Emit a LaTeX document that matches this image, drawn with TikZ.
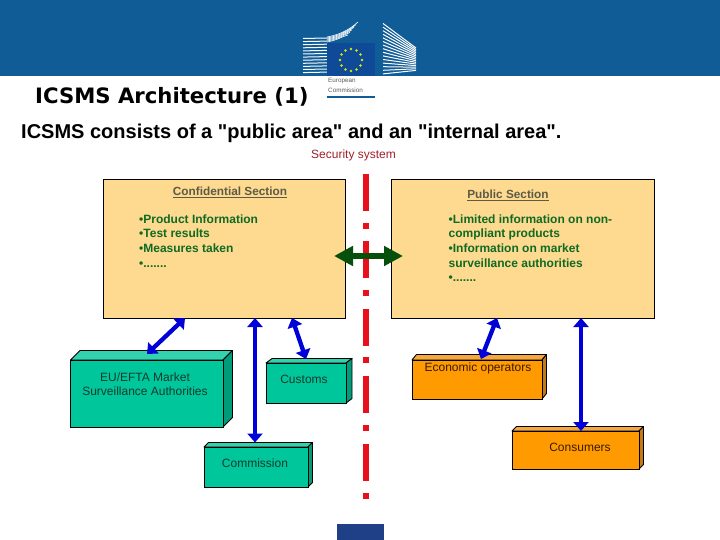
\documentclass[tikz,border=0pt]{standalone}
\usepackage{fontspec}
\setmainfont{Liberation Sans}
\newfontfamily\titlefont{DejaVu Sans}
\usetikzlibrary{arrows.meta}
\definecolor{hdr}{HTML}{0F5C97}
\definecolor{flagblue}{HTML}{0F4A98}
\definecolor{sand}{HTML}{FDDA8F}
\definecolor{grn}{HTML}{00C79B}
\definecolor{grntop}{HTML}{33D2AE}
\definecolor{grnside}{HTML}{009C7A}
\definecolor{org}{HTML}{FF9A00}
\definecolor{orgtop}{HTML}{F5A840}
\definecolor{orgside}{HTML}{C27A18}
\definecolor{bluearrow}{HTML}{0000D8}
\definecolor{grnarrow}{HTML}{06500C}
\definecolor{redline}{HTML}{E8101C}
\definecolor{sectitle}{HTML}{5E5A48}
\definecolor{bultxt}{HTML}{0F6A24}
\definecolor{labtxt}{HTML}{123A2C}
\definecolor{labtxto}{HTML}{3A1A00}
\definecolor{sectxt}{HTML}{A0202C}
\definecolor{foot}{HTML}{1F3F86}
\tikzset{
  panel/.style={draw=black,line width=0.9pt,fill=sand,anchor=north west,inner sep=0,outer sep=0},
  front/.style={draw=black,line width=0.9pt,anchor=north west,inner sep=0,outer sep=0},
  duplex/.style={draw=bluearrow,line width=4.3pt,{Triangle[length=9pt,width=15pt]}-{Triangle[length=9pt,width=15pt]}},
  duplexg/.style={draw=grnarrow,line width=6.5pt,{Triangle[length=19pt,width=19pt]}-{Triangle[length=19pt,width=19pt]}},
  seclabel/.style={text=sectitle,font=\bfseries\fontsize{11.8}{14}\selectfont},
  bulleted/.style={text=bultxt,font=\bfseries\fontsize{12}{14.6}\selectfont,align=left,anchor=north west,inner sep=0},
  boxlabel/.style={font=\fontsize{12}{14}\selectfont,align=center,inner sep=0},
  redseg/.style={draw=redline,line width=6pt},
  stripe/.style={draw=white,line width=1pt},
  thinstripe/.style={draw=white,line width=0.6pt},
}
% name, x, y, w, h, dx, dy, colour family
\newcommand{\cuboid}[8]{%
  \fill[#8top,draw=black,line width=0.9pt,line join=round] (#2,#3) -- ++(#6,-#7) -- ++(#4,0) -- ++(-#6,#7) -- cycle;
  \fill[#8side,draw=black,line width=0.9pt,line join=round] (#2+#4,#3) -- ++(#6,-#7) -- ++(0,#5) -- ++(-#6,#7) -- cycle;
  \node[front,fill=#8,minimum width=#4pt,minimum height=#5pt] (#1) at (#2,#3) {};
}
\begin{document}
\begin{tikzpicture}[x=1pt,y=-1pt]
\useasboundingbox (0,0) rectangle (720,540);
% header
\fill[hdr] (0,0) rectangle (720,76);
\foreach \i in {0,...,11}{
  \draw[stripe] (303,{38.5+\i*3.1}) -- (327,{38+\i*3.1});
}
\foreach \i in {0,...,5}{
  \draw[thinstripe] (327,{37+\i}) .. controls (338,{35+\i}) and ({348-\i},{31+\i}) .. ({358-\i*2},{22+\i*2.6});
}
\foreach \i in {0,...,14}{
  \draw[stripe] (383,{23.5+\i*3.6}) -- (416,{48+\i*1.6});
}
\fill[flagblue] (327,43) rectangle (375,76);
\foreach \a in {0,30,...,330}{
  \fill[yellow!85!green] ({351+11*cos(\a)},{60+11*sin(\a)}) circle (1.3);
}
\node[anchor=west,inner sep=0,text=black!65,font=\fontsize{6.3}{7}\selectfont] (eur) at (328,81) {European};
\node[anchor=west,inner sep=0,text=black!65,font=\fontsize{6.3}{7}\selectfont] (com) at (328,90) {Commission};
\fill[hdr] (327,96) rectangle (375,98);
\fill[foot] (337,524) rectangle (384,540);
% titles
\node[anchor=west,inner sep=0,font=\titlefont\bfseries\fontsize{21.2}{24}\selectfont] (title) at (35,97) {ICSMS Architecture (1)};
\node[anchor=west,inner sep=0,font=\bfseries\fontsize{20}{23}\selectfont] (subtitle) at (21,133) {ICSMS consists of a \textquotedbl public area\textquotedbl{} and an \textquotedbl internal area\textquotedbl.};
\node[anchor=west,inner sep=0,text=sectxt,font=\fontsize{12}{14}\selectfont] (sec) at (311,155.5) {Security system};
% panels
\node[panel,minimum width=242pt,minimum height=139pt] (conf) at (103,179) {};
\node[panel,minimum width=263pt,minimum height=139pt] (pub) at (391,179) {};
\node[seclabel] (conft) at (230,192) {\underline{Confidential Section}};
\node[seclabel] (pubt) at (508,195) {\underline{Public Section}};
\node[bulleted] (confb) at (139,214.5) {•Product Information\\•Test results\\•Measures taken\\•.......};
\node[bulleted] (pubb) at (448.5,214.5) {•Limited information on non-\\compliant products\\•Information on market\\surveillance authorities\\•.......};
% security line
\foreach \y in {174,241,309,376,444}{\draw[redseg] (366,\y) -- (366,\y+37);}
\foreach \y in {223,290,357,425,493}{\draw[redseg] (366,\y) -- (366,\y+6);}
% cuboids
\cuboid{eu}{70.5}{360}{152.5}{67}{9.5}{9.5}{grn}
\cuboid{cust}{266}{363}{80}{40}{6}{4.5}{grn}
\cuboid{comm}{204}{447}{104}{40}{4.5}{4.5}{grn}
\cuboid{econ}{412}{360}{130}{39}{4.5}{5.5}{org}
\cuboid{cons}{512}{431}{127}{38}{4.5}{4.5}{org}
\node[boxlabel,text=labtxt] (eut) at (145,384) {EU/EFTA Market\\Surveillance Authorities};
\node[boxlabel,text=labtxt] (custt) at (304,379) {Customs};
\node[boxlabel,text=labtxt] (commt) at (255,463) {Commission};
\node[boxlabel,text=labtxto] (econt) at (478,368) {Economic operators};
\node[boxlabel,text=labtxto] (const) at (580,447) {Consumers};
% connectors
\draw[duplex] ([xshift=82pt]conf.south west) -- ([xshift=76.5pt,yshift=6pt]eu.north west);
\draw[duplex] ([xshift=152pt]conf.south west) -- ([xshift=51pt,yshift=4.5pt]comm.north west);
\draw[duplex] ([xshift=189pt]conf.south west) -- ([xshift=40pt,yshift=4pt]cust.north west);
\draw[duplex] ([xshift=106pt]pub.south west) -- ([xshift=69pt,yshift=1pt]econ.north west);
\draw[duplex] ([xshift=190pt]pub.south west) -- ([xshift=69pt]cons.north west);
\draw[duplexg] ([xshift=-11pt,yshift=-77pt]conf.north east) -- ([xshift=12pt,yshift=-77pt]pub.north west);
\end{tikzpicture}
\end{document}
